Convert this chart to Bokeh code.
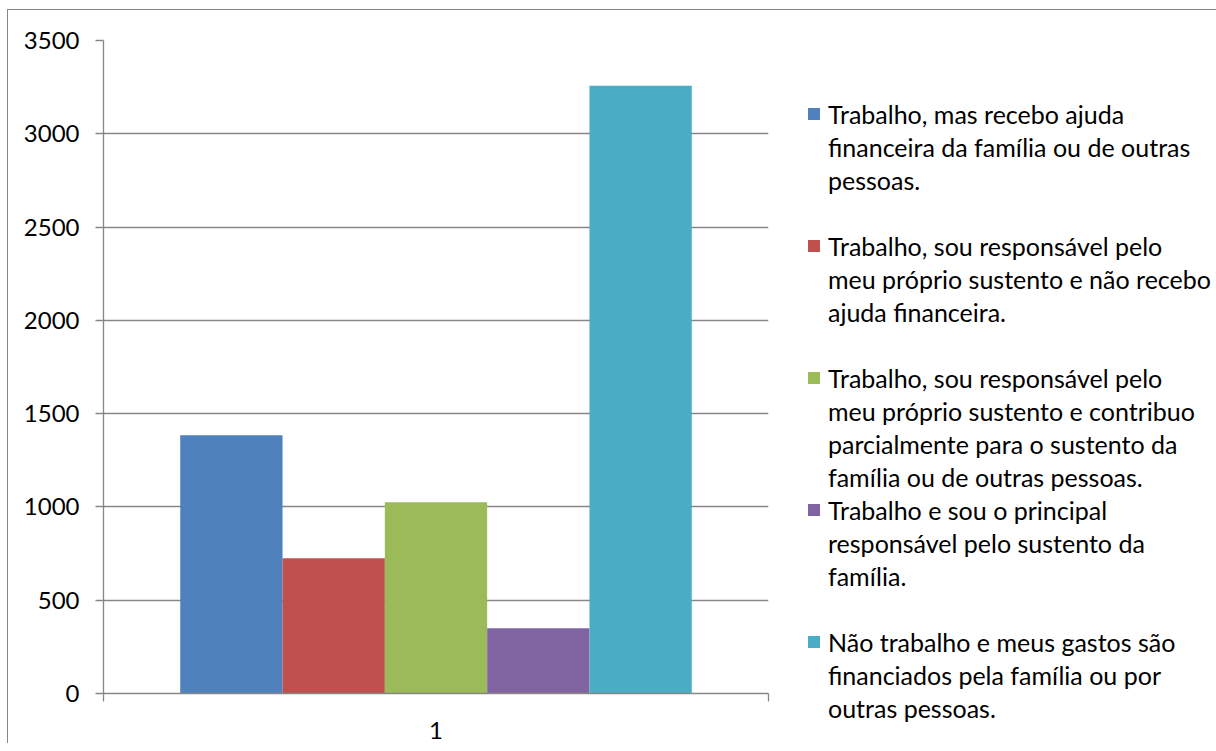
from bokeh.plotting import figure
from bokeh.models import (FixedTicker, ColumnDataSource, Range1d, Legend,
                          LegendItem)
from bokeh.embed import file_html
from bokeh.resources import INLINE

# ---- data ----
categories = ["1"]
series_names = [
    "Trabalho, mas recebo ajuda\nfinanceira da família ou de outras\npessoas.",
    "Trabalho, sou responsável pelo\nmeu próprio sustento e não recebo\najuda financeira.",
    "Trabalho, sou responsável pelo\nmeu próprio sustento e contribuo\nparcialmente para o sustento da\nfamília ou de outras pessoas.",
    "Trabalho e sou o principal\nresponsável pelo sustento da\nfamília.",
    "Não trabalho e meus gastos são\nfinanciados pela família ou por\noutras pessoas.",
]
values = [1384, 725, 1025, 350, 3258]
colors = ["#4F81BD", "#C0504D", "#9BBB59", "#8064A2", "#4BACC6"]
y_ticks = [0, 500, 1000, 1500, 2000, 2500, 3000, 3500]

FONT = "Lato"
GRAY = "#868686"

# ---- geometry (page pixels) ----
FRAME_L, FRAME_T, FRAME_W, FRAME_H = 103, 40, 665, 653
CANVAS_L, CANVAS_T = 8, 10

# ---- main chart ----
n = len(values)
gap = 1.5
w = 1.0 / (n + gap)
xs = [0.5 + (i - (n - 1) / 2) * w for i in range(n)]
src = ColumnDataSource(dict(x=xs, top=values, color=colors))

p = figure(frame_width=FRAME_W, frame_height=FRAME_H,
           x_range=Range1d(0, len(categories)), y_range=Range1d(0, y_ticks[-1]),
           output_backend="svg", toolbar_location=None,
           min_border_left=FRAME_L - CANVAS_L, min_border_top=FRAME_T - CANVAS_T,
           min_border_right=1208 - (FRAME_L + FRAME_W),
           min_border_bottom=50,
           styles={"margin-left": "7px", "margin-top": "9px",
                   "border-left": "1px solid #868686",
                   "border-top": "1px solid #868686"})
p.outline_line_color = None

r = p.vbar(x="x", top="top", bottom=0, width=w, fill_color="color",
           line_color=None, source=src)
# renderer with no data, used for legend rows that carry no colour swatch
blank = p.scatter(x=[], y=[], size=1, fill_color=None, line_color=None)

p.xgrid.visible = False
p.ygrid.ticker = FixedTicker(ticks=y_ticks)
p.ygrid.grid_line_color = GRAY
p.ygrid.grid_line_width = 1.3

ya = p.yaxis[0]
ya.ticker = FixedTicker(ticks=y_ticks)
ya.axis_line_color = GRAY
ya.axis_line_width = 1.3
ya.major_tick_line_color = GRAY
ya.major_tick_line_width = 1.3
ya.major_tick_out = 8
ya.major_tick_in = 0
ya.minor_tick_line_color = None
ya.major_label_text_font = FONT
ya.major_label_text_font_size = "24px"
ya.major_label_text_color = "black"
ya.major_label_standoff = 16

xa = p.xaxis[0]
xa.ticker = FixedTicker(ticks=[0.5], minor_ticks=[0, 1])
xa.major_label_overrides = {0.5: categories[0]}
xa.axis_line_color = GRAY
xa.axis_line_width = 1.3
xa.major_tick_line_color = None
xa.major_tick_out = 0
xa.major_tick_in = 0
xa.minor_tick_line_color = GRAY
xa.minor_tick_line_width = 1.3
xa.minor_tick_out = 8
xa.minor_tick_in = 0
xa.major_label_text_font = FONT
xa.major_label_text_font_size = "24px"
xa.major_label_text_color = "black"
xa.major_label_standoff = 20

# ---- legend: one row per text line, every entry padded to 4 rows ----
ROWS_PER_ENTRY = 4
ROW_H = 33
items = []
for i, name in enumerate(series_names):
    lines = name.split("\n")
    for k, line in enumerate(lines):
        if k == 0:
            items.append(LegendItem(label=line, renderers=[r], index=i))
        else:
            items.append(LegendItem(label=line, renderers=[blank]))
    if i < len(series_names) - 1:
        for _ in range(ROWS_PER_ENTRY - len(lines)):
            items.append(LegendItem(label="", renderers=[blank]))

legend_top = 97                      # page px of first row top
legend_h = len(items) * ROW_H
frame_bottom = FRAME_T + FRAME_H
legend = Legend(items=items,
                location=(806 - (FRAME_L + FRAME_W), frame_bottom - (legend_top + legend_h)),
                orientation="vertical",
                glyph_width=15, glyph_height=15, label_standoff=7,
                label_height=ROW_H, spacing=0, padding=0, margin=0,
                border_line_color=None, background_fill_color=None,
                label_text_font=FONT, label_text_font_size="25px",
                label_text_color="black")
p.add_layout(legend, "right")

open("out.html", "w").write(file_html(p, INLINE))
